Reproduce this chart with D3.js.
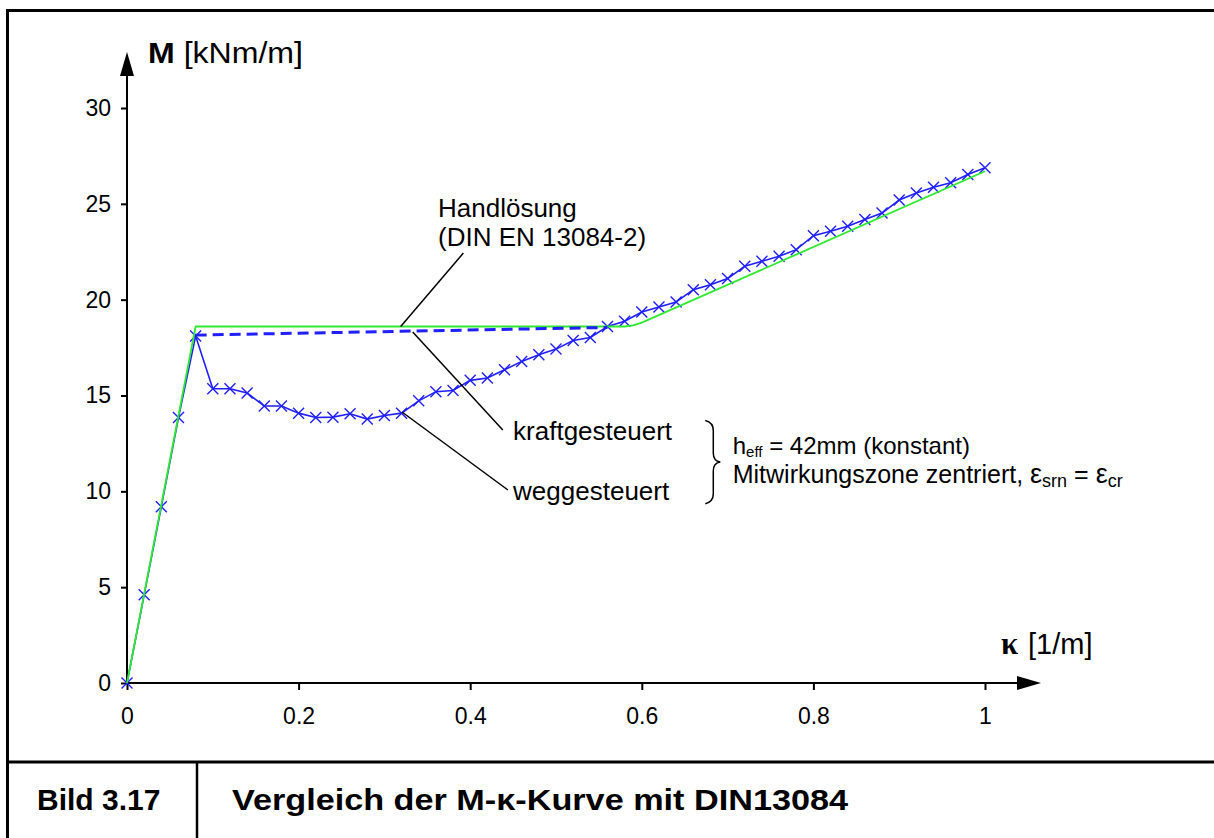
<!DOCTYPE html>
<html>
<head>
<meta charset="utf-8">
<script src="https://cdn.jsdelivr.net/npm/d3@7"></script>
<style>
  html, body { margin: 0; padding: 0; background: #fff; }
  svg { display: block; font-family: "Liberation Sans", Arial, sans-serif; }
</style>
</head>
<body>
<svg id="chart" width="1214" height="838"></svg>
<script>
// curvature kappa [1/m], every 0.02
const kappa = [0, 0.02, 0.04, 0.06, 0.08, 0.10, 0.12, 0.14, 0.16, 0.18, 0.20,
  0.22, 0.24, 0.26, 0.28, 0.30, 0.32, 0.34, 0.36, 0.38, 0.40, 0.42, 0.44, 0.46,
  0.48, 0.50, 0.52, 0.54, 0.56, 0.58, 0.60, 0.62, 0.64, 0.66, 0.68, 0.70, 0.72,
  0.74, 0.76, 0.78, 0.80, 0.82, 0.84, 0.86, 0.88, 0.90, 0.92, 0.94, 0.96, 0.98, 1.00];
// weggesteuert (displacement controlled) moment [kNm/m]
const momentWeg = [0, 4.6, 9.2, 13.85, 18.1, 15.35, 15.35, 15.13, 14.45, 14.45, 14.08,
  13.85, 13.87, 14.05, 13.77, 13.96, 14.08, 14.72, 15.2, 15.26, 15.79, 15.91, 16.34, 16.78,
  17.13, 17.42, 17.87, 18.03, 18.6, 18.87, 19.36, 19.62, 19.88, 20.52, 20.78, 21.1, 21.74,
  22.0, 22.26, 22.61, 23.34, 23.57, 23.83, 24.18, 24.52, 25.2, 25.56, 25.86, 26.1, 26.53, 26.88];
// kraftgesteuert (force controlled) plateau, dashed
const kraftKappa = [0.08, 0.56];
const kraftMoment = [18.15, 18.55];
// Handlösung DIN EN 13084-2
const handKappa = [0, 0.08, 0.58, 0.59, 0.60, 1.00];
const handMoment = [0, 18.6, 18.6, 18.66, 18.8, 26.7];

const xTicks = [0, 0.2, 0.4, 0.6, 0.8, 1];
const yTicks = [0, 5, 10, 15, 20, 25, 30];

const svg = d3.select("#chart");
const x = d3.scaleLinear().domain([0, 1]).range([127, 985]);
const y = d3.scaleLinear().domain([0, 30]).range([683, 108]);

// frame
svg.append("path")
  .attr("d", "M7.5,838 L7.5,10.5 L1214,10.5")
  .attr("fill", "none").attr("stroke", "#000").attr("stroke-width", 3);
svg.append("line").attr("x1", 7).attr("x2", 1214).attr("y1", 762).attr("y2", 762)
  .attr("stroke", "#000").attr("stroke-width", 3);
svg.append("line").attr("x1", 197).attr("x2", 197).attr("y1", 762).attr("y2", 838)
  .attr("stroke", "#000").attr("stroke-width", 2.5);

// axes
const yAxis = d3.axisLeft(y).tickValues(yTicks).tickSize(6).tickPadding(10).tickFormat(d3.format("d"));
const gy = svg.append("g").attr("transform", `translate(${x(0)},0)`).call(yAxis);
const xAxis = d3.axisBottom(x).tickValues(xTicks).tickSize(7).tickPadding(18).tickFormat(d => d3.format("")(d));
const gx = svg.append("g").attr("transform", `translate(0,${y(0)})`).call(xAxis);
[gx, gy].forEach(g => {
  g.select(".domain").remove();
  g.selectAll(".tick line").attr("stroke", "#000").attr("stroke-width", 2);
  g.selectAll(".tick text").attr("font-size", 23).attr("fill", "#000")
    .attr("font-family", "Liberation Sans, Arial, sans-serif");
});

// axis lines with arrows
svg.append("line").attr("x1", x(0)).attr("x2", x(0)).attr("y1", y(0) + 1).attr("y2", 74)
  .attr("stroke", "#000").attr("stroke-width", 2);
svg.append("path").attr("d", `M${x(0)},52 L${x(0) - 7},76 L${x(0) + 7},76 Z`).attr("fill", "#000");
svg.append("line").attr("x1", x(0) - 1).attr("x2", 1020).attr("y1", y(0)).attr("y2", y(0))
  .attr("stroke", "#000").attr("stroke-width", 2);
svg.append("path").attr("d", `M1041,${y(0)} L1017,${y(0) - 7} L1017,${y(0) + 7} Z`).attr("fill", "#000");

// axis titles
const mLab = svg.append("text").attr("x", 148).attr("y", 63).attr("font-size", 30).attr("fill", "#000")
  .attr("textLength", 155).attr("lengthAdjust", "spacingAndGlyphs");
mLab.append("tspan").attr("font-weight", "bold").text("M");
mLab.append("tspan").text(" [kNm/m]");
const kLab = svg.append("text").attr("x", 1001).attr("y", 654).attr("font-size", 29).attr("fill", "#000");
kLab.append("tspan").attr("font-family", "Liberation Serif, Times New Roman, serif")
  .attr("font-weight", "bold").attr("font-size", 31).text("κ");
kLab.append("tspan").attr("x", 1028).text("[1/m]");

const line = d3.line().x(d => x(d[0])).y(d => y(d[1]));

// weggesteuert curve with x markers
const wegData = kappa.map((k, i) => [k, momentWeg[i]]);
svg.append("path").datum(wegData).attr("d", line)
  .attr("fill", "none").attr("stroke", "#1f1fff").attr("stroke-width", 1.6);
svg.append("g").selectAll("path.mk").data(wegData).join("path")
  .attr("class", "mk")
  .attr("d", d => {
    const cx = x(d[0]), cy = y(d[1]), s = 5.5;
    return `M${cx - s},${cy - s}L${cx + s},${cy + s}M${cx - s},${cy + s}L${cx + s},${cy - s}`;
  })
  .attr("stroke", "#1f1fff").attr("stroke-width", 1.4).attr("fill", "none");

// Handlösung (green)
svg.append("path").datum(handKappa.map((k, i) => [k, handMoment[i]])).attr("d", line)
  .attr("fill", "none").attr("stroke", "#2eea2e").attr("stroke-width", 1.8);

// kraftgesteuert (dashed)
svg.append("path").datum(kraftKappa.map((k, i) => [k, kraftMoment[i]])).attr("d", line)
  .attr("fill", "none").attr("stroke", "#1f1fff").attr("stroke-width", 3)
  .attr("stroke-dasharray", "11,6");

// annotations (positions in data units)
const leaders = [
  [[0.392, 22.43], [0.319, 18.6]],
  [[0.333, 18.31], [0.438, 13.2]],
  [[0.3205, 14.14], [0.444, 10.07]]
];
svg.append("g").selectAll("line").data(leaders).join("line")
  .attr("x1", d => x(d[0][0])).attr("y1", d => y(d[0][1]))
  .attr("x2", d => x(d[1][0])).attr("y2", d => y(d[1][1]))
  .attr("stroke", "#000").attr("stroke-width", 1.5);

const labels = [
  { k: 0.3625, m: 24.31, t: "Handlösung" },
  { k: 0.3625, m: 22.8, t: "(DIN EN 13084-2)" },
  { k: 0.45, m: 12.68, t: "kraftgesteuert" },
  { k: 0.45, m: 9.55, t: "weggesteuert" }
];
svg.append("g").selectAll("text").data(labels).join("text")
  .attr("x", d => x(d.k)).attr("y", d => y(d.m))
  .attr("font-size", 26).attr("fill", "#000").text(d => d.t);

// brace
const bx = x(0.674), bTop = y(13.7), bBot = y(9.35), bMid = (bTop + bBot) / 2;
svg.append("path")
  .attr("d", `M${bx},${bTop} Q${bx + 8},${bTop + 2} ${bx + 8},${bTop + 10} L${bx + 8},${bMid - 9}
    Q${bx + 8},${bMid - 1} ${bx + 15},${bMid} Q${bx + 8},${bMid + 1} ${bx + 8},${bMid + 9}
    L${bx + 8},${bBot - 10} Q${bx + 8},${bBot - 2} ${bx},${bBot}`)
  .attr("fill", "none").attr("stroke", "#000").attr("stroke-width", 1.5);

const t1 = svg.append("text").attr("x", x(0.706)).attr("y", y(11.95)).attr("font-size", 24).attr("fill", "#000");
t1.append("tspan").text("h");
t1.append("tspan").attr("font-size", 15).attr("dy", 3).text("eff");
t1.append("tspan").attr("dy", -3).text(" = 42mm (konstant)");
const t2 = svg.append("text").attr("x", x(0.706)).attr("y", y(10.45)).attr("font-size", 25).attr("fill", "#000");
t2.append("tspan").text("Mitwirkungszone zentriert, ");
t2.append("tspan").attr("font-size", 27).text("ε");
t2.append("tspan").attr("font-size", 18).attr("dy", 4).text("srn");
t2.append("tspan").attr("dy", -4).text(" = ");
t2.append("tspan").attr("font-size", 27).text("ε");
t2.append("tspan").attr("font-size", 18).attr("dy", 4).text("cr");

// caption
svg.append("text").attr("x", 37).attr("y", 810).attr("font-size", 30).attr("font-weight", "bold")
  .attr("fill", "#000").text("Bild 3.17");
svg.append("text").attr("x", 232).attr("y", 810).attr("font-size", 30).attr("font-weight", "bold")
  .attr("fill", "#000").attr("textLength", 616).attr("lengthAdjust", "spacingAndGlyphs")
  .text("Vergleich der M-κ-Kurve mit DIN13084");
</script>
</body>
</html>
